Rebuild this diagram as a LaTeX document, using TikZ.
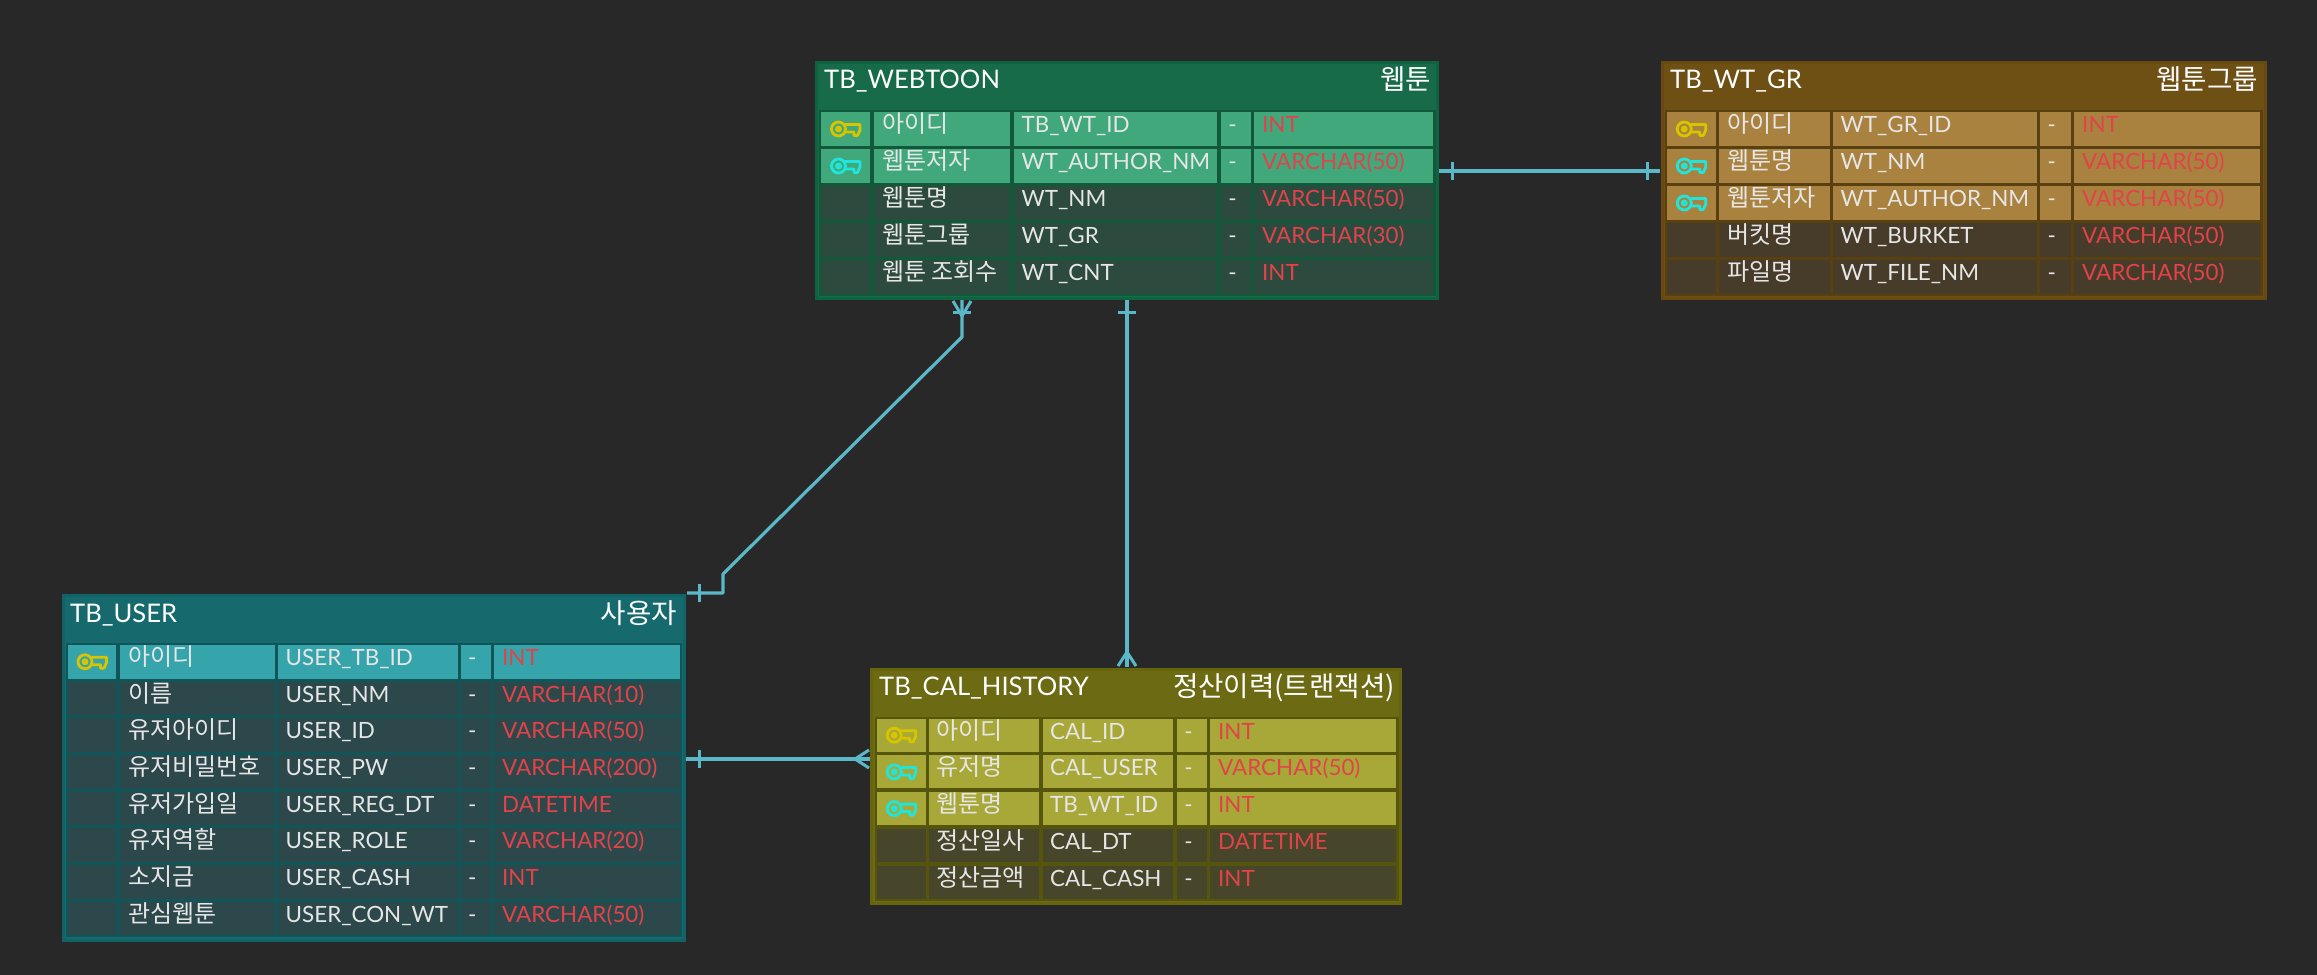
\documentclass[tikz,border=0pt]{standalone}
\usepackage{fontspec}
\setmainfont{Lato}
\newfontfamily\kofont{Noto Sans CJK KR}
\definecolor{bgc}{HTML}{282828}
\definecolor{linec}{HTML}{5AB8C8}
\definecolor{txtc}{HTML}{E6E6E6}
\definecolor{redc}{HTML}{E2434A}
\definecolor{pkc}{HTML}{D9C400}
\definecolor{fkc}{HTML}{1FE6DC}
\definecolor{wH}{HTML}{176B48}\definecolor{wB}{HTML}{0E6340}\definecolor{wG}{HTML}{12583B}\definecolor{wL}{HTML}{41A87C}\definecolor{wD}{HTML}{2C4A3E}
\definecolor{gH}{HTML}{6E4F14}\definecolor{gB}{HTML}{684A10}\definecolor{gG}{HTML}{584010}\definecolor{gL}{HTML}{A9823F}\definecolor{gD}{HTML}{473B2A}
\definecolor{uH}{HTML}{166A6E}\definecolor{uB}{HTML}{0F6468}\definecolor{uG}{HTML}{115559}\definecolor{uL}{HTML}{35A4AB}\definecolor{uD}{HTML}{2C484B}
\definecolor{cH}{HTML}{6C6A13}\definecolor{cB}{HTML}{66640D}\definecolor{cG}{HTML}{56550E}\definecolor{cL}{HTML}{A8A838}\definecolor{cD}{HTML}{47462A}
\tikzset{
  tablebox/.style={rectangle,inner sep=0pt,line width=3pt},
  headtxt/.style={inner sep=0pt,text=white,font=\fontsize{25.6}{26}\selectfont},
  headko/.style={inner sep=0pt,text=white,font=\kofont\fontsize{27.6}{28}\selectfont},
  latintxt/.style={inner sep=0pt,anchor=base west,text=txtc,font=\fontsize{22.4}{23}\selectfont},
  kotxt/.style={inner sep=0pt,anchor=base west,text=txtc,font=\kofont\fontsize{24}{24}\selectfont},
  typetxt/.style={latintxt,text=redc},
  dashtxt/.style={inner sep=0pt,anchor=base,text=txtc,font=\fontsize{22.4}{23}\selectfont},
  rel/.style={draw=linec,line width=3.2pt},
  relmark/.style={draw=linec,line width=3pt},
  keyline/.style={line width=2.8pt,line join=round}
}
\newcommand\colsA[5]{\def\xa{#1}\def\xb{#2}\def\xc{#3}\def\xd{#4}\def\xe{#5}}
\newcommand\colsB[5]{\def\xf{#1}\def\xg{#2}\def\xh{#3}\def\xi{#4}\def\xj{#5}}
\newcommand\rowgeom[3]{\def\ys{#1}\def\pitch{#2}\def\rh{#3}}
\newcommand\keyicon[3]{%
  \begin{scope}[shift={(#1,#2)},keyline,draw=#3]
    \draw (-7,0) circle (7);
    \draw (-7,0) circle (2);
    \draw (-0.5,-4.5) -- (14.5,-4.5) -- (14.5,1) -- (12,6.5) -- (8.5,6.5) -- (8.5,3) -- (-0.5,3);
  \end{scope}}
% #1 prefix, #2 row index, #3 Y/C/N, #4 korean, #5 physical, #6 type, #7 hl colour, #8 dark colour
\newcommand\erow[8]{%
  \pgfmathsetmacro\tp{\ys+#2*\pitch}%
  \pgfmathsetmacro\bt{\tp+\rh}%
  \pgfmathsetmacro\mdl{\tp+\rh/2}%
  \pgfmathsetmacro\blA{\tp+20.5}%
  \pgfmathsetmacro\blB{\tp+20.5}%
  \def\kk{#3}\def\kn{N}%
  \ifx\kk\kn\def\cf{#8}\else\def\cf{#7}\fi
  \fill[\cf] (\xa,\tp) rectangle (\xb,\bt);
  \fill[\cf] (\xc,\tp) rectangle (\xd,\bt);
  \fill[\cf] (\xe,\tp) rectangle (\xf,\bt);
  \fill[\cf] (\xg,\tp) rectangle (\xh,\bt);
  \fill[\cf] (\xi,\tp) rectangle (\xj,\bt);
  \def\ky{Y}\def\kc{C}%
  \pgfmathsetmacro\kx{(\xa+\xb)/2}%
  \ifx\kk\ky\keyicon{\kx}{\mdl}{pkc}\fi
  \ifx\kk\kc\keyicon{\kx}{\mdl}{fkc}\fi
  \node[kotxt] (#1-#2-ko) at ({\xc+8},\blB) {#4};
  \node[latintxt] (#1-#2-ph) at ({\xe+7.5},\blA) {#5};
  \node[dashtxt] (#1-#2-da) at ({(\xg+\xh)/2-3.5},\blA) {-};
  \node[typetxt] (#1-#2-ty) at ({\xi+8},\blA) {#6};
}
\begin{document}
\begin{tikzpicture}[x=1pt,y=-1pt]
\useasboundingbox (0,0) rectangle (2317,974);
\fill[bgc] (-2,-2) rectangle (2319,976);

\coordinate (wtA) at (1439,171);
\coordinate (grA) at (1660,171);
\coordinate (wtB) at (962,300);
\coordinate (elbow1) at (962,337);
\coordinate (elbow2) at (723,574);
\coordinate (elbow3) at (723,593);
\coordinate (usA) at (687,593);
\coordinate (wtC) at (1127,300);
\coordinate (caA) at (1127,667);
\coordinate (usB) at (686,759);
\coordinate (caB) at (870,759);

% --- TB_WEBTOON ---
\node[tablebox,draw=wB,fill=wH,minimum width=621pt,minimum height=236pt] (webtoon) at (1127,180.5) {};
\node[headtxt,anchor=base west] (webtoon-title) at (824,88.5) {TB\_WEBTOON};
\node[headko,anchor=base east] (webtoon-ko) at (1431,89) {웹툰};
\colsA{821}{870}{874}{1010}{1014}\colsB{1217}{1221}{1251}{1254}{1433}
\rowgeom{112}{37}{34}
\fill[wG] (818.5,110) rectangle (1436,296);
\erow{wt}{0}{Y}{아이디}{TB\_WT\_ID}{INT}{wL}{wD}
\erow{wt}{1}{C}{웹툰저자}{WT\_AUTHOR\_NM}{VARCHAR(50)}{wL}{wD}
\erow{wt}{2}{N}{웹툰명}{WT\_NM}{VARCHAR(50)}{wL}{wD}
\erow{wt}{3}{N}{웹툰그룹}{WT\_GR}{VARCHAR(30)}{wL}{wD}
\erow{wt}{4}{N}{웹툰 조회수}{WT\_CNT}{INT}{wL}{wD}

% --- TB_WT_GR ---
\node[tablebox,draw=gB,fill=gH,minimum width=603pt,minimum height=236pt] (wtgr) at (1963.5,180.5) {};
\node[headtxt,anchor=base west] (wtgr-title) at (1670,88.5) {TB\_WT\_GR};
\node[headko,anchor=base east] (wtgr-ko) at (2258,89) {웹툰그룹};
\colsA{1667}{1715.5}{1719}{1830}{1833}\colsB{2037}{2040}{2070.5}{2074}{2260}
\rowgeom{112}{37}{34}
\fill[gG] (1664.5,110) rectangle (2263,296);
\erow{gr}{0}{Y}{아이디}{WT\_GR\_ID}{INT}{gL}{gD}
\erow{gr}{1}{C}{웹툰명}{WT\_NM}{VARCHAR(50)}{gL}{gD}
\erow{gr}{2}{C}{웹툰저자}{WT\_AUTHOR\_NM}{VARCHAR(50)}{gL}{gD}
\erow{gr}{3}{N}{버킷명}{WT\_BURKET}{VARCHAR(50)}{gL}{gD}
\erow{gr}{4}{N}{파일명}{WT\_FILE\_NM}{VARCHAR(50)}{gL}{gD}

% --- TB_USER ---
\node[tablebox,draw=uB,fill=uH,minimum width=621pt,minimum height=345pt] (user) at (373.5,768) {};
\node[headtxt,anchor=base west] (user-title) at (70,622.5) {TB\_USER};
\node[headko,anchor=base east] (user-ko) at (677,623) {사용자};
\colsA{68}{116}{120}{274.5}{278}\colsB{457.5}{461}{490.5}{494}{679.5}
\rowgeom{645}{36.67}{33.5}
\fill[uG] (65.5,643) rectangle (682,937);
\erow{us}{0}{Y}{아이디}{USER\_TB\_ID}{INT}{uL}{uD}
\erow{us}{1}{N}{이름}{USER\_NM}{VARCHAR(10)}{uL}{uD}
\erow{us}{2}{N}{유저아이디}{USER\_ID}{VARCHAR(50)}{uL}{uD}
\erow{us}{3}{N}{유저비밀번호}{USER\_PW}{VARCHAR(200)}{uL}{uD}
\erow{us}{4}{N}{유저가입일}{USER\_REG\_DT}{DATETIME}{uL}{uD}
\erow{us}{5}{N}{유저역할}{USER\_ROLE}{VARCHAR(20)}{uL}{uD}
\erow{us}{6}{N}{소지금}{USER\_CASH}{INT}{uL}{uD}
\erow{us}{7}{N}{관심웹툰}{USER\_CON\_WT}{VARCHAR(50)}{uL}{uD}

% --- TB_CAL_HISTORY ---
\node[tablebox,draw=cB,fill=cH,minimum width=529pt,minimum height=234pt] (cal) at (1136,786) {};
\node[headtxt,anchor=base west] (cal-title) at (879,695.5) {TB\_CAL\_HISTORY};
\node[headko,anchor=base east] (cal-ko) at (1395,696) {정산이력(트랜잭션)};
\colsA{877}{925.5}{928.5}{1038.5}{1042.5}\colsB{1173}{1177}{1207}{1210}{1396}
\rowgeom{718.7}{36.7}{33}
\fill[cG] (874.5,716.5) rectangle (1398.5,901);
\erow{ca}{0}{Y}{아이디}{CAL\_ID}{INT}{cL}{cD}
\erow{ca}{1}{C}{유저명}{CAL\_USER}{VARCHAR(50)}{cL}{cD}
\erow{ca}{2}{C}{웹툰명}{TB\_WT\_ID}{INT}{cL}{cD}
\erow{ca}{3}{N}{정산일사}{CAL\_DT}{DATETIME}{cL}{cD}
\erow{ca}{4}{N}{정산금액}{CAL\_CASH}{INT}{cL}{cD}

% --- relations ---
\draw[rel] (wtA) -- (grA);
\draw[relmark] (1452,162) -- (1452,180);
\draw[relmark] (1647,162) -- (1647,180);

\draw[rel,line join=round] (wtB) -- (elbow1) -- (elbow2) -- (elbow3) -- (usA);
\draw[relmark] (953,312) -- (971,312);
\draw[relmark] (962,316) -- (953,301);
\draw[relmark] (962,316) -- (971,301);
\draw[relmark] (699,584) -- (699,602);

\draw[rel] (wtC) -- (caA);
\draw[relmark] (1118,312) -- (1136,312);
\draw[relmark] (1127,652) -- (1118,666);
\draw[relmark] (1127,652) -- (1136,666);

\draw[rel] (usB) -- (caB);
\draw[relmark] (699,750) -- (699,768);
\draw[relmark] (855,759) -- (869,750);
\draw[relmark] (855,759) -- (869,768);
\end{tikzpicture}
\end{document}
